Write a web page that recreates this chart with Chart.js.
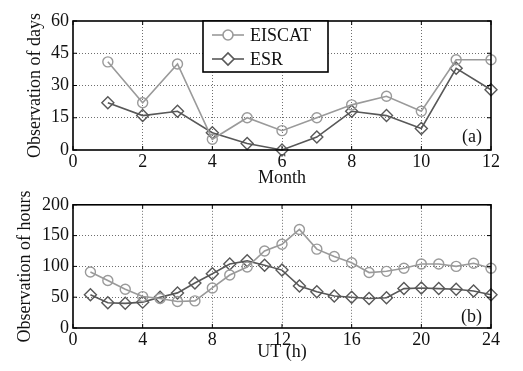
<!DOCTYPE html>
<html>
<head>
<meta charset="utf-8">
<script src="https://cdn.jsdelivr.net/npm/chart.js@4.4.0/dist/chart.umd.min.js"></script>
<style>
  html, body { margin: 0; padding: 0; background: #fff; }
  #wrap { position: relative; width: 523px; height: 371px; }
  canvas { position: absolute; left: 0; }
</style>
</head>
<body>
<div id="wrap">
  <canvas id="chartDays" width="523" height="190" style="top:0px"></canvas>
  <canvas id="chartHours" width="523" height="181" style="top:190px"></canvas>
</div>
<script>
// ---------------------------------------------------------------------
// Data
// ---------------------------------------------------------------------
const months = [1, 2, 3, 4, 5, 6, 7, 8, 9, 10, 11, 12];
const eiscatDays = [41, 22, 40, 5, 15, 9, 15, 21, 25, 18, 42, 42];
const esrDays = [22, 16, 18, 8, 3, 0, 6, 18, 16, 10, 38, 28];

const utHours = [1, 2, 3, 4, 5, 6, 7, 8, 9, 10, 11, 12, 13, 14, 15, 16, 17, 18, 19, 20, 21, 22, 23, 24];
const eiscatHours = [91, 77, 63, 51, 48, 43, 44, 65, 86, 99, 125, 136, 160, 128, 116, 106, 90, 92, 97, 104, 104, 100, 105, 97];
const esrHours = [54, 41, 40, 42, 50, 57, 73, 88, 104, 109, 102, 94, 68, 59, 52, 50, 48, 49, 64, 65, 64, 63, 60, 54];

const monthTicks = [0, 2, 4, 6, 8, 10, 12];
const dayTicks = [0, 15, 30, 45, 60];
const hourTicks = [0, 4, 8, 12, 16, 20, 24];
const hourCountTicks = [0, 50, 100, 150, 200];

const seriesNames = ["EISCAT", "ESR"];
const EISCAT_COLOR = "#9a9a9a";
const ESR_COLOR = "#585858";
const FONT = "'Liberation Serif', 'Times New Roman', serif";

const el = (id) => document.getElementById(id);

// ---------------------------------------------------------------------
// Helpers
// ---------------------------------------------------------------------
function xy(xs, ys) {
  return xs.map((x, i) => ({ x, y: ys[i] }));
}

function dataset(label, xs, ys, color, style, radius) {
  return {
    label,
    data: xy(xs, ys),
    borderColor: color,
    borderWidth: 1.6,
    pointStyle: style,
    pointRadius: radius,
    pointBorderColor: color,
    pointBackgroundColor: "rgba(255,255,255,0)",
    pointBorderWidth: 1.4,
    tension: 0,
    clip: false,
  };
}

function linearAxis(ticks, title, titlePad, fitSize, horizontal) {
  const lo = ticks[0], hi = ticks[ticks.length - 1];
  return {
    type: "linear",
    min: lo,
    max: hi,
    afterBuildTicks: (s) => { s.ticks = ticks.map((v) => ({ value: v })); },
    afterFit: (s) => { if (horizontal) s.height = fitSize; else s.width = fitSize; },
    grid: {
      drawTicks: false,
      color: (c) => (c.tick && (c.tick.value === lo || c.tick.value === hi)) ? "rgba(0,0,0,0)" : "#6e6e6e",
      lineWidth: 1,
    },
    border: { display: false, dash: [1, 2] },
    ticks: {
      color: "#111",
      font: { family: FONT, size: 18 },
      padding: horizontal ? 1 : 4,
      maxRotation: 0,
      autoSkip: false,
    },
    title: {
      display: true,
      text: title,
      color: "#111",
      font: { family: FONT, size: 18 },
      padding: titlePad,
    },
  };
}

// frame, inward ticks, panel tag, optional legend
function framePlugin(tag, tagY, withLegend) {
  return {
    id: "frame" + tag,
    afterDraw(chart) {
      const { ctx, chartArea: a, scales } = chart;
      ctx.save();
      ctx.strokeStyle = "#000";
      ctx.lineWidth = 1.6;
      ctx.strokeRect(a.left, a.top, a.right - a.left, a.bottom - a.top);

      ctx.lineWidth = 1;
      const tl = 4;
      scales.x.ticks.forEach((t) => {
        const px = scales.x.getPixelForValue(t.value);
        ctx.beginPath();
        ctx.moveTo(px, a.bottom); ctx.lineTo(px, a.bottom - tl);
        ctx.moveTo(px, a.top); ctx.lineTo(px, a.top + tl);
        ctx.stroke();
      });
      scales.y.ticks.forEach((t) => {
        const py = scales.y.getPixelForValue(t.value);
        ctx.beginPath();
        ctx.moveTo(a.left, py); ctx.lineTo(a.left + tl, py);
        ctx.moveTo(a.right, py); ctx.lineTo(a.right - tl, py);
        ctx.stroke();
      });

      ctx.fillStyle = "#111";
      ctx.font = `18px ${FONT}`;
      ctx.textAlign = "right";
      ctx.textBaseline = "middle";
      ctx.fillText(tag, a.right - 9, tagY);

      if (withLegend) {
        const bx = 203, by = 21, bw = 125, bh = 51;
        ctx.fillStyle = "#fff";
        ctx.fillRect(bx, by, bw, bh);
        ctx.strokeStyle = "#000";
        ctx.lineWidth = 1.6;
        ctx.strokeRect(bx, by, bw, bh);
        const rows = [
          { name: seriesNames[0], color: EISCAT_COLOR, style: "circle", r: 5, y: 35 },
          { name: seriesNames[1], color: ESR_COLOR, style: "rectRot", r: 6, y: 59 },
        ];
        rows.forEach((row) => {
          ctx.strokeStyle = row.color;
          ctx.lineWidth = 1.6;
          ctx.beginPath();
          ctx.moveTo(212, row.y); ctx.lineTo(244, row.y);
          ctx.stroke();
          ctx.fillStyle = "#fff";
          Chart.helpers.drawPoint(ctx, { pointStyle: row.style, radius: row.r, borderWidth: 1.4 }, 228, row.y);
          ctx.fillStyle = "#111";
          ctx.textAlign = "left";
          ctx.textBaseline = "middle";
          ctx.fillText(row.name, 250, row.y + 1);
        });
      }
      ctx.restore();
    },
  };
}

// ---------------------------------------------------------------------
// Charts
// ---------------------------------------------------------------------
const baseOptions = (pad) => ({
  responsive: false,
  animation: false,
  events: [],
  layout: { padding: pad },
  plugins: { legend: { display: false }, tooltip: { enabled: false } },
});

new Chart(el("chartDays").getContext("2d"), {
  type: "line",
  data: {
    datasets: [
      dataset(seriesNames[0], months, eiscatDays, EISCAT_COLOR, "circle", 5),
      dataset(seriesNames[1], months, esrDays, ESR_COLOR, "rectRot", 6),
    ],
  },
  options: {
    ...baseOptions({ left: 0, top: 21, right: 32, bottom: 0 }),
    scales: {
      x: linearAxis(monthTicks, "Month", { top: 0, bottom: 1 }, 40, true),
      y: linearAxis(dayTicks, "Observation of days", { top: 24, bottom: 0 }, 73, false),
    },
  },
  plugins: [framePlugin("(a)", 137, true)],
});

new Chart(el("chartHours").getContext("2d"), {
  type: "line",
  data: {
    datasets: [
      dataset(seriesNames[0], utHours, eiscatHours, EISCAT_COLOR, "circle", 5),
      dataset(seriesNames[1], utHours, esrHours, ESR_COLOR, "rectRot", 6),
    ],
  },
  options: {
    ...baseOptions({ left: 0, top: 11, right: 32, bottom: 0 }),
    scales: {
      x: linearAxis(hourTicks, "UT (h)", { top: 0, bottom: 8 }, 43, true),
      y: linearAxis(hourCountTicks, "Observation of hours", { top: 14, bottom: 0 }, 73, false),
    },
  },
  plugins: [framePlugin("(b)", 127, false)],
});
</script>
</body>
</html>
